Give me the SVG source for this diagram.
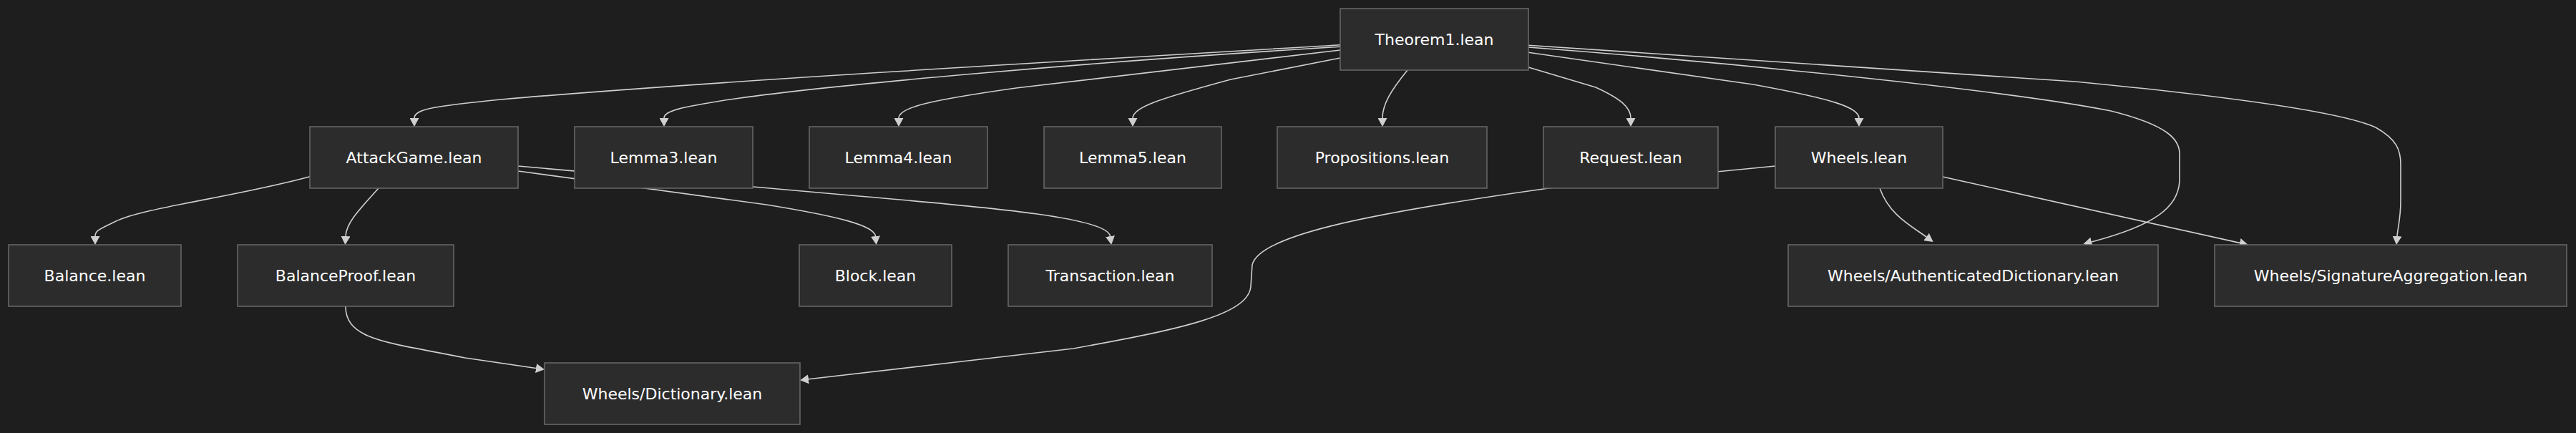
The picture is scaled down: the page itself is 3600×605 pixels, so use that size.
<svg xmlns="http://www.w3.org/2000/svg" width="3600" height="605" viewBox="0 0 3600 605">
<style>
.bg{fill:#1e1e1e}
.node rect{fill:#2c2c2c;stroke:#6a6a6a;stroke-width:1.5}
.node text{fill:#ffffff;font-family:"DejaVu Sans",Verdana,sans-serif;font-size:22px;text-anchor:middle;dominant-baseline:central}
.edge{fill:none;stroke:#cfcfcf;stroke-width:1.6;marker-end:url(#arr)}
</style>
<defs>
<marker id="arr" viewBox="0 0 12 13" refX="0" refY="6.5" markerWidth="12" markerHeight="13" markerUnits="userSpaceOnUse" orient="auto">
<path d="M0,0 L12,6.5 L0,13 z" fill="#cfcfcf"/>
</marker>
</defs>
<rect class="bg" x="0" y="0" width="3600" height="605"/>
<g id="connectors">
<path class="edge" d="M1873 62.7 C1500 85 1000 113 700 139 C610 148 579 152 579 165"/>
<path class="edge" d="M1873 65.3 C1500 88 1150 120 1020 139 C950 150 928 155 928 165"/>
<path class="edge" d="M1873 70 L1420 123 C1300 140 1256 150 1256 165"/>
<path class="edge" d="M1873 81 L1720 111 C1620 138 1583 150 1583 165"/>
<path class="edge" d="M1967 98 C1945 125 1932 145 1932 165"/>
<path class="edge" d="M2136 94 L2230 122 C2265 138 2279 150 2279 165"/>
<path class="edge" d="M2136 73.3 L2450 118 C2560 138 2598 150 2598 165"/>
<path class="edge" d="M2136 66 C2400 86 2800 125 2950 155 C3030 175 3046 195 3046 215 L3046 250 C3046 290 3010 315 2923 338"/>
<path class="edge" d="M2136 63.3 L2900 114 C3150 138 3280 160 3320 178 C3350 195 3355 210 3355 230 L3355 280 C3355 305 3351 318 3350 330"/>
<path class="edge" d="M2627 263 C2640 300 2670 315 2692 331"/>
<path class="edge" d="M2715 247 L3130 339.4"/>
<path class="edge" d="M433 246.7 C330 275 200 290 160 310 C140 320 133 322 133 330"/>
<path class="edge" d="M529 263 C505 290 484 310 483 330"/>
<path class="edge" d="M483 428 C483 475 540 478 650 500 L749 514.5"/>
<path class="edge" d="M724 239 L1071 286 C1170 302 1222 315 1223.5 330"/>
<path class="edge" d="M724 232 L1200 274 C1400 291 1548 305 1551.5 330"/>
<path class="edge" d="M2481 232 L2164 263 C1900 300 1760 330 1750 370 L1748 400 C1745 440 1650 460 1500 487 L1130 529.8"/>
</g>
<g id="Theorem1" class="node"><rect x="1873" y="12" width="263" height="86"/><text x="2004.5" y="55">Theorem1.lean</text></g>
<g id="AttackGame" class="node"><rect x="433" y="177" width="291" height="86"/><text x="578.5" y="220">AttackGame.lean</text></g>
<g id="Lemma3" class="node"><rect x="803" y="177" width="249" height="86"/><text x="927.5" y="220">Lemma3.lean</text></g>
<g id="Lemma4" class="node"><rect x="1131" y="177" width="249" height="86"/><text x="1255.5" y="220">Lemma4.lean</text></g>
<g id="Lemma5" class="node"><rect x="1459" y="177" width="248" height="86"/><text x="1583" y="220">Lemma5.lean</text></g>
<g id="Propositions" class="node"><rect x="1785" y="177" width="293" height="86"/><text x="1931.5" y="220">Propositions.lean</text></g>
<g id="Request" class="node"><rect x="2157" y="177" width="244" height="86"/><text x="2279" y="220">Request.lean</text></g>
<g id="Wheels" class="node"><rect x="2481" y="177" width="234" height="86"/><text x="2598" y="220">Wheels.lean</text></g>
<g id="Balance" class="node"><rect x="12" y="342" width="241" height="86"/><text x="132.5" y="385">Balance.lean</text></g>
<g id="BalanceProof" class="node"><rect x="332" y="342" width="302" height="86"/><text x="483" y="385">BalanceProof.lean</text></g>
<g id="Block" class="node"><rect x="1117" y="342" width="213" height="86"/><text x="1223.5" y="385">Block.lean</text></g>
<g id="Transaction" class="node"><rect x="1409" y="342" width="285" height="86"/><text x="1551.5" y="385">Transaction.lean</text></g>
<g id="WheelsAuthenticatedDictionary" class="node"><rect x="2499" y="342" width="517" height="86"/><text x="2757.5" y="385">Wheels/AuthenticatedDictionary.lean</text></g>
<g id="WheelsSignatureAggregation" class="node"><rect x="3095" y="342" width="492" height="86"/><text x="3341" y="385">Wheels/SignatureAggregation.lean</text></g>
<g id="WheelsDictionary" class="node"><rect x="761" y="507" width="357" height="86"/><text x="939.5" y="550">Wheels/Dictionary.lean</text></g>
</svg>
